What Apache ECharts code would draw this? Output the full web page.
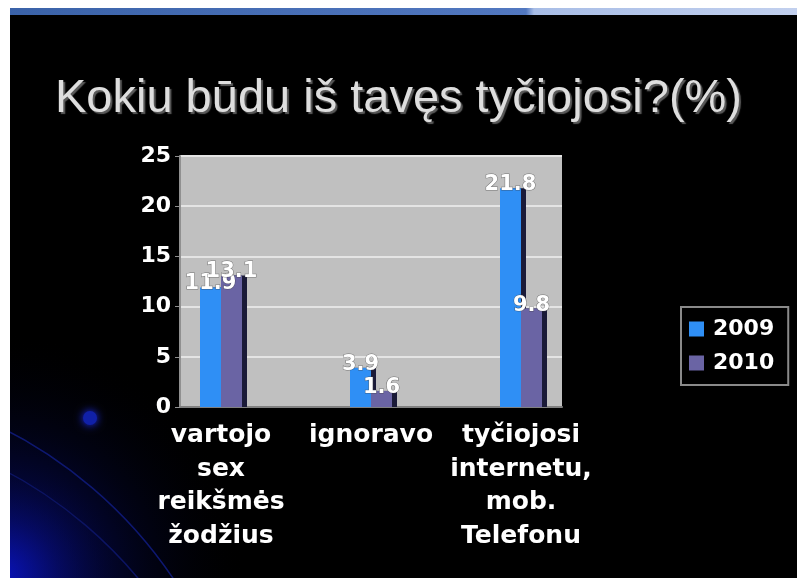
<!DOCTYPE html>
<html>
<head>
<meta charset="utf-8">
<script src="https://cdn.jsdelivr.net/npm/echarts@6/dist/echarts.min.js"></script>
<style>html,body{margin:0;padding:0;background:#000;}#c{width:797px;height:578px;}</style>
</head>
<body>
<div id="c"></div>
<script>
var categories = ['vartojo\nsex\nreikšmės\nžodžius', 'ignoravo', 'tyčiojosi\ninternetu,\nmob.\nTelefonu'];
var seriesNames = ['2009', '2010'];
var values2009 = [11.9, 3.9, 21.8];
var values2010 = [13.1, 1.6, 9.8];
var yTicks = [0, 5, 10, 15, 20, 25];

var chart = echarts.init(document.getElementById('c'));
var labelFont = 'DejaVu Sans';
function barSeries(name, data, color) {
  return {
    name: name, type: 'bar', data: data,
    xAxisIndex: 1, yAxisIndex: 1,
    barWidth: 21, barGap: '0%',
    itemStyle: { color: color, shadowColor: '#1a1a38', shadowOffsetX: 5, shadowBlur: 0 },
    label: { show: true, position: 'top', distance: -7, color: '#fff', fontFamily: labelFont,
             fontWeight: 'bold', fontSize: 21, textBorderColor: 'rgba(60,60,60,0.6)', textBorderWidth: 1 },
    emphasis: { disabled: true }
  };
}
chart.setOption({
  backgroundColor: '#000',
  animation: false,
  graphic: [
    { type: 'rect', shape: { x: 0, y: 480, width: 797, height: 98 }, silent: true, z: -10,
      style: { fill: new echarts.graphic.RadialGradient(0, 1, 1.2, [
        { offset: 0, color: 'rgba(10,20,190,0.8)' }, { offset: 0.5, color: 'rgba(5,10,90,0.3)' }, { offset: 1, color: 'rgba(0,0,0,0)' }]) } },
    { type: 'rect', shape: { x: 0, y: 330, width: 260, height: 248 }, silent: true, z: -10,
      style: { fill: new echarts.graphic.RadialGradient(0, 1, 1, [
        { offset: 0, color: 'rgba(10,20,200,0.75)' }, { offset: 0.6, color: 'rgba(5,10,80,0.25)' }, { offset: 1, color: 'rgba(0,0,0,0)' }]) } },
    { type: 'arc', shape: { cx: -200, cy: 830, r: 450, startAngle: -Math.PI * 0.5, endAngle: -Math.PI * 0.05 }, silent: true, z: -9,
      style: { stroke: '#0e1870', lineWidth: 1.5, fill: null } },
    { type: 'arc', shape: { cx: -200, cy: 860, r: 440, startAngle: -Math.PI * 0.5, endAngle: -Math.PI * 0.05 }, silent: true, z: -9,
      style: { stroke: '#0c1462', lineWidth: 1.5, fill: null } },
    { type: 'circle', shape: { cx: 90, cy: 418, r: 7 }, silent: true, z: -9,
      style: { fill: '#1020a8', shadowColor: '#2030ff', shadowBlur: 8 } },
    { type: 'rect', shape: { x: 0, y: 0, width: 797, height: 8 }, silent: true, z: 10, style: { fill: '#fff' } },
    { type: 'rect', shape: { x: 0, y: 8, width: 797, height: 7 }, silent: true, z: 10,
      style: { fill: new echarts.graphic.LinearGradient(0, 0, 1, 0, [
        { offset: 0, color: '#3a62a8' }, { offset: 0.66, color: '#5278c0' }, { offset: 0.67, color: '#a8bde6' }, { offset: 1, color: '#c2d0ee' }]) } },
    { type: 'rect', shape: { x: 0, y: 0, width: 10, height: 578 }, silent: true, z: 10, style: { fill: '#fff' } }
  ],
  title: {
    text: 'Kokiu būdu iš tavęs tyčiojosi?(%)',
    left: 'center', top: 71,
    textStyle: { fontFamily: 'Liberation Sans', fontWeight: 'normal', fontSize: 47, color: '#dedede',
                 textShadowColor: '#5a5a5a', textShadowOffsetX: 2, textShadowOffsetY: 2, textShadowBlur: 1 }
  },
  legend: {
    data: seriesNames, orient: 'vertical', left: 681, top: 307,
    padding: [11, 14, 11, 8], itemGap: 12, itemWidth: 15, itemHeight: 15, icon: 'rect',
    borderColor: '#8a8a8a', borderWidth: 2,
    itemStyle: { shadowColor: 'transparent', shadowOffsetX: 0 },
    textStyle: { color: '#fff', fontFamily: labelFont, fontWeight: 'bold', fontSize: 22, padding: [0, 0, 0, 4] }
  },
  grid: [
    { left: 180, top: 156, width: 382, height: 251, show: true, backgroundColor: '#c0c0c0', borderWidth: 0 },
    { left: 146, top: 156, width: 450, height: 251, show: false }
  ],
  xAxis: [
    { gridIndex: 0, type: 'category', data: categories,
      axisLine: { show: true, lineStyle: { color: '#808080', width: 2 } },
      axisTick: { show: false }, axisLabel: { show: false } },
    { gridIndex: 1, type: 'category', data: categories,
      axisLine: { show: false }, axisTick: { show: false },
      axisLabel: { color: '#fff', fontFamily: labelFont, fontWeight: 'bold', fontSize: 25, lineHeight: 33.5, margin: 12, interval: 0 } }
  ],
  yAxis: [
    { gridIndex: 0, type: 'value', min: yTicks[0], max: yTicks[yTicks.length - 1], interval: 5,
      axisLine: { show: true, lineStyle: { color: '#909090', width: 2 } },
      axisTick: { show: true, length: 5, lineStyle: { color: '#909090' } },
      axisLabel: { color: '#fff', fontFamily: labelFont, fontWeight: 'bold', fontSize: 22, margin: 9 },
      splitLine: { show: true, lineStyle: { color: '#e4e4e4', width: 2 } } },
    { gridIndex: 1, type: 'value', min: yTicks[0], max: yTicks[yTicks.length - 1], interval: 5, show: false, splitLine: { show: false } }
  ],
  series: [
    barSeries(seriesNames[0], values2009, '#2f8ff5'),
    barSeries(seriesNames[1], values2010, '#6a64a4')
  ]
});
</script>
</body>
</html>
